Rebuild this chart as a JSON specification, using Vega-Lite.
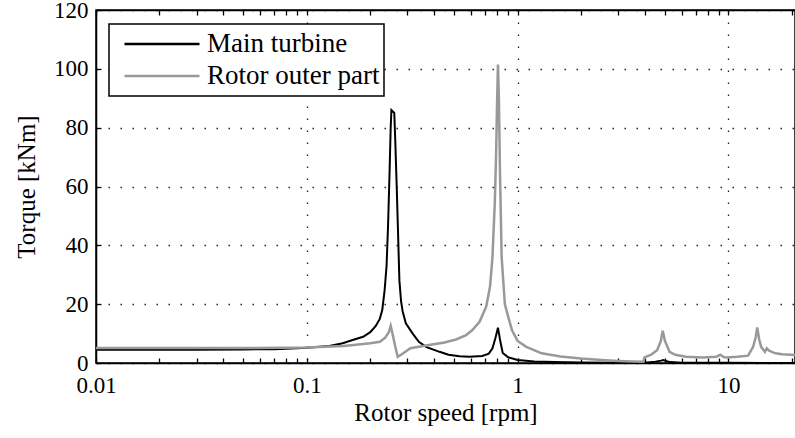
{
  "$schema": "https://vega.github.io/schema/vega-lite/v6.json",
  "autosize": {"type": "none"},
  "width": 699,
  "height": 353,
  "padding": {"left": 96, "right": 0, "top": 10, "bottom": 75},
  "config": {
    "font": "Liberation Serif, DejaVu Serif, serif",
    "view": {"stroke": "#000000", "strokeWidth": 1.5},
    "axis": {
      "domainColor": "#000000",
      "domainWidth": 1.5,
      "tickColor": "#000000",
      "tickWidth": 1.3,
      "labelColor": "#000000",
      "labelFont": "Liberation Serif, DejaVu Serif, serif",
      "labelFontSize": 23,
      "titleColor": "#000000",
      "titleFont": "Liberation Serif, DejaVu Serif, serif",
      "titleFontSize": 25,
      "titleFontWeight": "normal",
      "labelFlush": false,
      "labelOverlap": false
    }
  },
  "resolve": {"axis": {"x": "independent"}},
  "datasets": {
    "curves": [
      {"series": "Main turbine", "rpm": 0.01, "torque": 4.5},
      {"series": "Main turbine", "rpm": 0.03, "torque": 4.5},
      {"series": "Main turbine", "rpm": 0.05, "torque": 4.6},
      {"series": "Main turbine", "rpm": 0.07, "torque": 4.7},
      {"series": "Main turbine", "rpm": 0.09, "torque": 5.0},
      {"series": "Main turbine", "rpm": 0.1, "torque": 5.2},
      {"series": "Main turbine", "rpm": 0.115, "torque": 5.5},
      {"series": "Main turbine", "rpm": 0.128, "torque": 5.8},
      {"series": "Main turbine", "rpm": 0.148, "torque": 6.7},
      {"series": "Main turbine", "rpm": 0.165, "torque": 7.8},
      {"series": "Main turbine", "rpm": 0.185, "torque": 8.9},
      {"series": "Main turbine", "rpm": 0.2, "torque": 10.5},
      {"series": "Main turbine", "rpm": 0.212, "torque": 12.5},
      {"series": "Main turbine", "rpm": 0.222, "torque": 15.0},
      {"series": "Main turbine", "rpm": 0.228, "torque": 18.0},
      {"series": "Main turbine", "rpm": 0.234, "torque": 24.8},
      {"series": "Main turbine", "rpm": 0.239, "torque": 33.0},
      {"series": "Main turbine", "rpm": 0.243, "torque": 47.0},
      {"series": "Main turbine", "rpm": 0.247, "torque": 65.0},
      {"series": "Main turbine", "rpm": 0.25, "torque": 80.0},
      {"series": "Main turbine", "rpm": 0.252, "torque": 86.0},
      {"series": "Main turbine", "rpm": 0.26, "torque": 85.0},
      {"series": "Main turbine", "rpm": 0.263, "torque": 75.0},
      {"series": "Main turbine", "rpm": 0.267, "torque": 60.0},
      {"series": "Main turbine", "rpm": 0.27, "torque": 48.0},
      {"series": "Main turbine", "rpm": 0.275, "torque": 28.0},
      {"series": "Main turbine", "rpm": 0.28, "torque": 21.0},
      {"series": "Main turbine", "rpm": 0.285, "torque": 17.5},
      {"series": "Main turbine", "rpm": 0.295, "torque": 13.5},
      {"series": "Main turbine", "rpm": 0.318, "torque": 10.0},
      {"series": "Main turbine", "rpm": 0.34, "torque": 7.2},
      {"series": "Main turbine", "rpm": 0.368, "torque": 5.5},
      {"series": "Main turbine", "rpm": 0.426, "torque": 3.8},
      {"series": "Main turbine", "rpm": 0.47, "torque": 2.8},
      {"series": "Main turbine", "rpm": 0.53, "torque": 2.3},
      {"series": "Main turbine", "rpm": 0.59, "torque": 2.1},
      {"series": "Main turbine", "rpm": 0.68, "torque": 2.4},
      {"series": "Main turbine", "rpm": 0.73, "torque": 3.2},
      {"series": "Main turbine", "rpm": 0.76, "torque": 5.0},
      {"series": "Main turbine", "rpm": 0.785, "torque": 8.5},
      {"series": "Main turbine", "rpm": 0.807, "torque": 12.0},
      {"series": "Main turbine", "rpm": 0.825, "torque": 8.0},
      {"series": "Main turbine", "rpm": 0.85, "torque": 3.4},
      {"series": "Main turbine", "rpm": 0.9, "torque": 2.0},
      {"series": "Main turbine", "rpm": 1.0, "torque": 1.0},
      {"series": "Main turbine", "rpm": 1.2, "torque": 0.5},
      {"series": "Main turbine", "rpm": 1.5, "torque": 0.3},
      {"series": "Main turbine", "rpm": 2.0, "torque": 0.2},
      {"series": "Main turbine", "rpm": 3.0, "torque": 0.1},
      {"series": "Main turbine", "rpm": 4.0, "torque": 0.1},
      {"series": "Main turbine", "rpm": 4.5, "torque": 0.4},
      {"series": "Main turbine", "rpm": 4.8, "torque": 0.8},
      {"series": "Main turbine", "rpm": 4.9, "torque": 1.0},
      {"series": "Main turbine", "rpm": 5.0, "torque": 0.8},
      {"series": "Main turbine", "rpm": 5.3, "torque": 0.3},
      {"series": "Main turbine", "rpm": 6.0, "torque": 0.1},
      {"series": "Main turbine", "rpm": 10.0, "torque": 0.05},
      {"series": "Main turbine", "rpm": 20.7, "torque": 0.02},
      {"series": "Rotor outer part", "rpm": 0.01, "torque": 5.1},
      {"series": "Rotor outer part", "rpm": 0.05, "torque": 5.1},
      {"series": "Rotor outer part", "rpm": 0.1, "torque": 5.3},
      {"series": "Rotor outer part", "rpm": 0.15, "torque": 5.8},
      {"series": "Rotor outer part", "rpm": 0.2, "torque": 6.7},
      {"series": "Rotor outer part", "rpm": 0.222, "torque": 7.2},
      {"series": "Rotor outer part", "rpm": 0.235, "torque": 8.5},
      {"series": "Rotor outer part", "rpm": 0.245, "torque": 10.5},
      {"series": "Rotor outer part", "rpm": 0.25, "torque": 12.6},
      {"series": "Rotor outer part", "rpm": 0.255, "torque": 10.0},
      {"series": "Rotor outer part", "rpm": 0.262, "torque": 6.0},
      {"series": "Rotor outer part", "rpm": 0.27, "torque": 2.1},
      {"series": "Rotor outer part", "rpm": 0.28, "torque": 2.8},
      {"series": "Rotor outer part", "rpm": 0.31, "torque": 5.0},
      {"series": "Rotor outer part", "rpm": 0.38, "torque": 6.1},
      {"series": "Rotor outer part", "rpm": 0.45, "torque": 7.0},
      {"series": "Rotor outer part", "rpm": 0.51, "torque": 8.0},
      {"series": "Rotor outer part", "rpm": 0.57, "torque": 9.5},
      {"series": "Rotor outer part", "rpm": 0.61, "torque": 11.2},
      {"series": "Rotor outer part", "rpm": 0.66, "torque": 14.0},
      {"series": "Rotor outer part", "rpm": 0.71, "torque": 19.2},
      {"series": "Rotor outer part", "rpm": 0.74, "torque": 26.0},
      {"series": "Rotor outer part", "rpm": 0.76, "torque": 36.0},
      {"series": "Rotor outer part", "rpm": 0.78, "torque": 55.0},
      {"series": "Rotor outer part", "rpm": 0.79, "torque": 70.0},
      {"series": "Rotor outer part", "rpm": 0.8, "torque": 90.0},
      {"series": "Rotor outer part", "rpm": 0.807, "torque": 101.5},
      {"series": "Rotor outer part", "rpm": 0.815, "torque": 90.0},
      {"series": "Rotor outer part", "rpm": 0.825, "torque": 65.0},
      {"series": "Rotor outer part", "rpm": 0.84, "torque": 36.0},
      {"series": "Rotor outer part", "rpm": 0.87, "torque": 20.0},
      {"series": "Rotor outer part", "rpm": 0.9, "torque": 16.0},
      {"series": "Rotor outer part", "rpm": 0.94, "torque": 11.2},
      {"series": "Rotor outer part", "rpm": 1.0, "torque": 7.5},
      {"series": "Rotor outer part", "rpm": 1.1, "torque": 5.5},
      {"series": "Rotor outer part", "rpm": 1.3, "torque": 3.3},
      {"series": "Rotor outer part", "rpm": 1.6, "torque": 2.2},
      {"series": "Rotor outer part", "rpm": 2.0, "torque": 1.5},
      {"series": "Rotor outer part", "rpm": 2.5, "torque": 1.0},
      {"series": "Rotor outer part", "rpm": 3.0, "torque": 0.7},
      {"series": "Rotor outer part", "rpm": 3.5, "torque": 0.5},
      {"series": "Rotor outer part", "rpm": 3.95, "torque": 0.4},
      {"series": "Rotor outer part", "rpm": 4.0, "torque": 1.9},
      {"series": "Rotor outer part", "rpm": 4.3, "torque": 2.8},
      {"series": "Rotor outer part", "rpm": 4.6, "torque": 4.4},
      {"series": "Rotor outer part", "rpm": 4.78, "torque": 7.5},
      {"series": "Rotor outer part", "rpm": 4.88, "torque": 11.0},
      {"series": "Rotor outer part", "rpm": 5.0, "torque": 7.5},
      {"series": "Rotor outer part", "rpm": 5.26, "torque": 3.8},
      {"series": "Rotor outer part", "rpm": 5.6, "torque": 2.8},
      {"series": "Rotor outer part", "rpm": 6.3, "torque": 2.1},
      {"series": "Rotor outer part", "rpm": 7.5, "torque": 1.9},
      {"series": "Rotor outer part", "rpm": 8.75, "torque": 2.1},
      {"series": "Rotor outer part", "rpm": 9.15, "torque": 2.8},
      {"series": "Rotor outer part", "rpm": 9.5, "torque": 2.0},
      {"series": "Rotor outer part", "rpm": 9.8, "torque": 1.9},
      {"series": "Rotor outer part", "rpm": 11.0, "torque": 2.1},
      {"series": "Rotor outer part", "rpm": 12.4, "torque": 2.5},
      {"series": "Rotor outer part", "rpm": 13.1, "torque": 5.5},
      {"series": "Rotor outer part", "rpm": 13.5, "torque": 9.0},
      {"series": "Rotor outer part", "rpm": 13.7, "torque": 12.1},
      {"series": "Rotor outer part", "rpm": 14.0, "torque": 8.0},
      {"series": "Rotor outer part", "rpm": 14.3, "torque": 5.5},
      {"series": "Rotor outer part", "rpm": 14.9, "torque": 3.8},
      {"series": "Rotor outer part", "rpm": 15.2, "torque": 5.0},
      {"series": "Rotor outer part", "rpm": 15.6, "torque": 4.2},
      {"series": "Rotor outer part", "rpm": 16.7, "torque": 3.3},
      {"series": "Rotor outer part", "rpm": 18.0, "torque": 3.0},
      {"series": "Rotor outer part", "rpm": 20.7, "torque": 2.7}
    ]
  },
  "data": {"name": "curves"},
  "layer": [
    {
      "transform": [{"filter": "datum.series == 'Main turbine'"}],
      "mark": {"type": "line", "strokeWidth": 2, "clip": true},
      "encoding": {
        "x": {
          "field": "rpm", "type": "quantitative",
          "scale": {"type": "log", "domain": [0.01, 20.7], "nice": false},
          "axis": {
            "orient": "bottom",
            "title": "Rotor speed [rpm]",
            "values": [0.01,0.02,0.03,0.04,0.05,0.06,0.07,0.08,0.09,0.1,0.2,0.3,0.4,0.5,0.6,0.7,0.8,0.9,1,2,3,4,5,6,7,8,9,10,20],
            "labelExpr": "datum.value == 0.01 ? '0.01' : datum.value == 0.1 ? '0.1' : datum.value == 1 ? '1' : datum.value == 10 ? '10' : ''",
            "ticks": true,
            "tickSize": -5,
            "labelPadding": 16,
            "titlePadding": 3,
            "grid": true,
            "gridColor": "#222222",
            "gridDash": [1.5, 10.5],
            "gridWidth": 1.3,
            "gridOpacity": {"condition": {"test": "datum.value == 0.1 || datum.value == 1 || datum.value == 10", "value": 1}, "value": 0}
          }
        },
        "y": {
          "field": "torque", "type": "quantitative",
          "scale": {"domain": [0, 120], "nice": false},
          "axis": {
            "orient": "left",
            "title": "Torque [kNm]",
            "values": [0, 20, 40, 60, 80, 100, 120],
            "ticks": true,
            "tickSize": -5,
            "labelPadding": 13,
            "titlePadding": 14,
            "grid": true,
            "gridColor": "#222222",
            "gridDash": [1.5, 10.5],
            "gridWidth": 1.3
          }
        },
        "color": {
          "field": "series", "type": "nominal",
          "scale": {"domain": ["Main turbine", "Rotor outer part"], "range": ["#000000", "#999999"]},
          "legend": {
            "orient": "none",
            "legendX": 13,
            "legendY": 14,
            "title": null,
            "strokeColor": "#000000",
            "fillColor": "#ffffff",
            "padding": 4,
            "symbolType": "stroke",
            "symbolSize": 5625,
            "symbolStrokeWidth": 2.5,
            "symbolOffset": 10,
            "clipHeight": 32,
            "rowPadding": 0,
            "labelOffset": 6,
            "labelFontSize": 27,
            "labelLimit": 400,
            "labelFont": "Liberation Serif, DejaVu Serif, serif",
            "labelColor": "#000000",
            "encode": {"legend": {"update": {"strokeWidth": {"value": 1.5}}}}
          }
        }
      }
    },
    {
      "transform": [{"filter": "datum.series == 'Rotor outer part'"}],
      "mark": {"type": "line", "strokeWidth": 2.5, "clip": true},
      "encoding": {
        "x": {
          "field": "rpm", "type": "quantitative",
          "scale": {"type": "log", "domain": [0.01, 20.7], "nice": false},
          "axis": {
            "orient": "top",
            "title": null,
            "values": [0.01,0.02,0.03,0.04,0.05,0.06,0.07,0.08,0.09,0.1,0.2,0.3,0.4,0.5,0.6,0.7,0.8,0.9,1,2,3,4,5,6,7,8,9,10,20],
            "labels": false,
            "ticks": true,
            "tickSize": -5,
            "grid": false
          }
        },
        "y": {"field": "torque", "type": "quantitative", "scale": {"domain": [0, 120], "nice": false}},
        "color": {"field": "series", "type": "nominal"}
      }
    }
  ]
}
